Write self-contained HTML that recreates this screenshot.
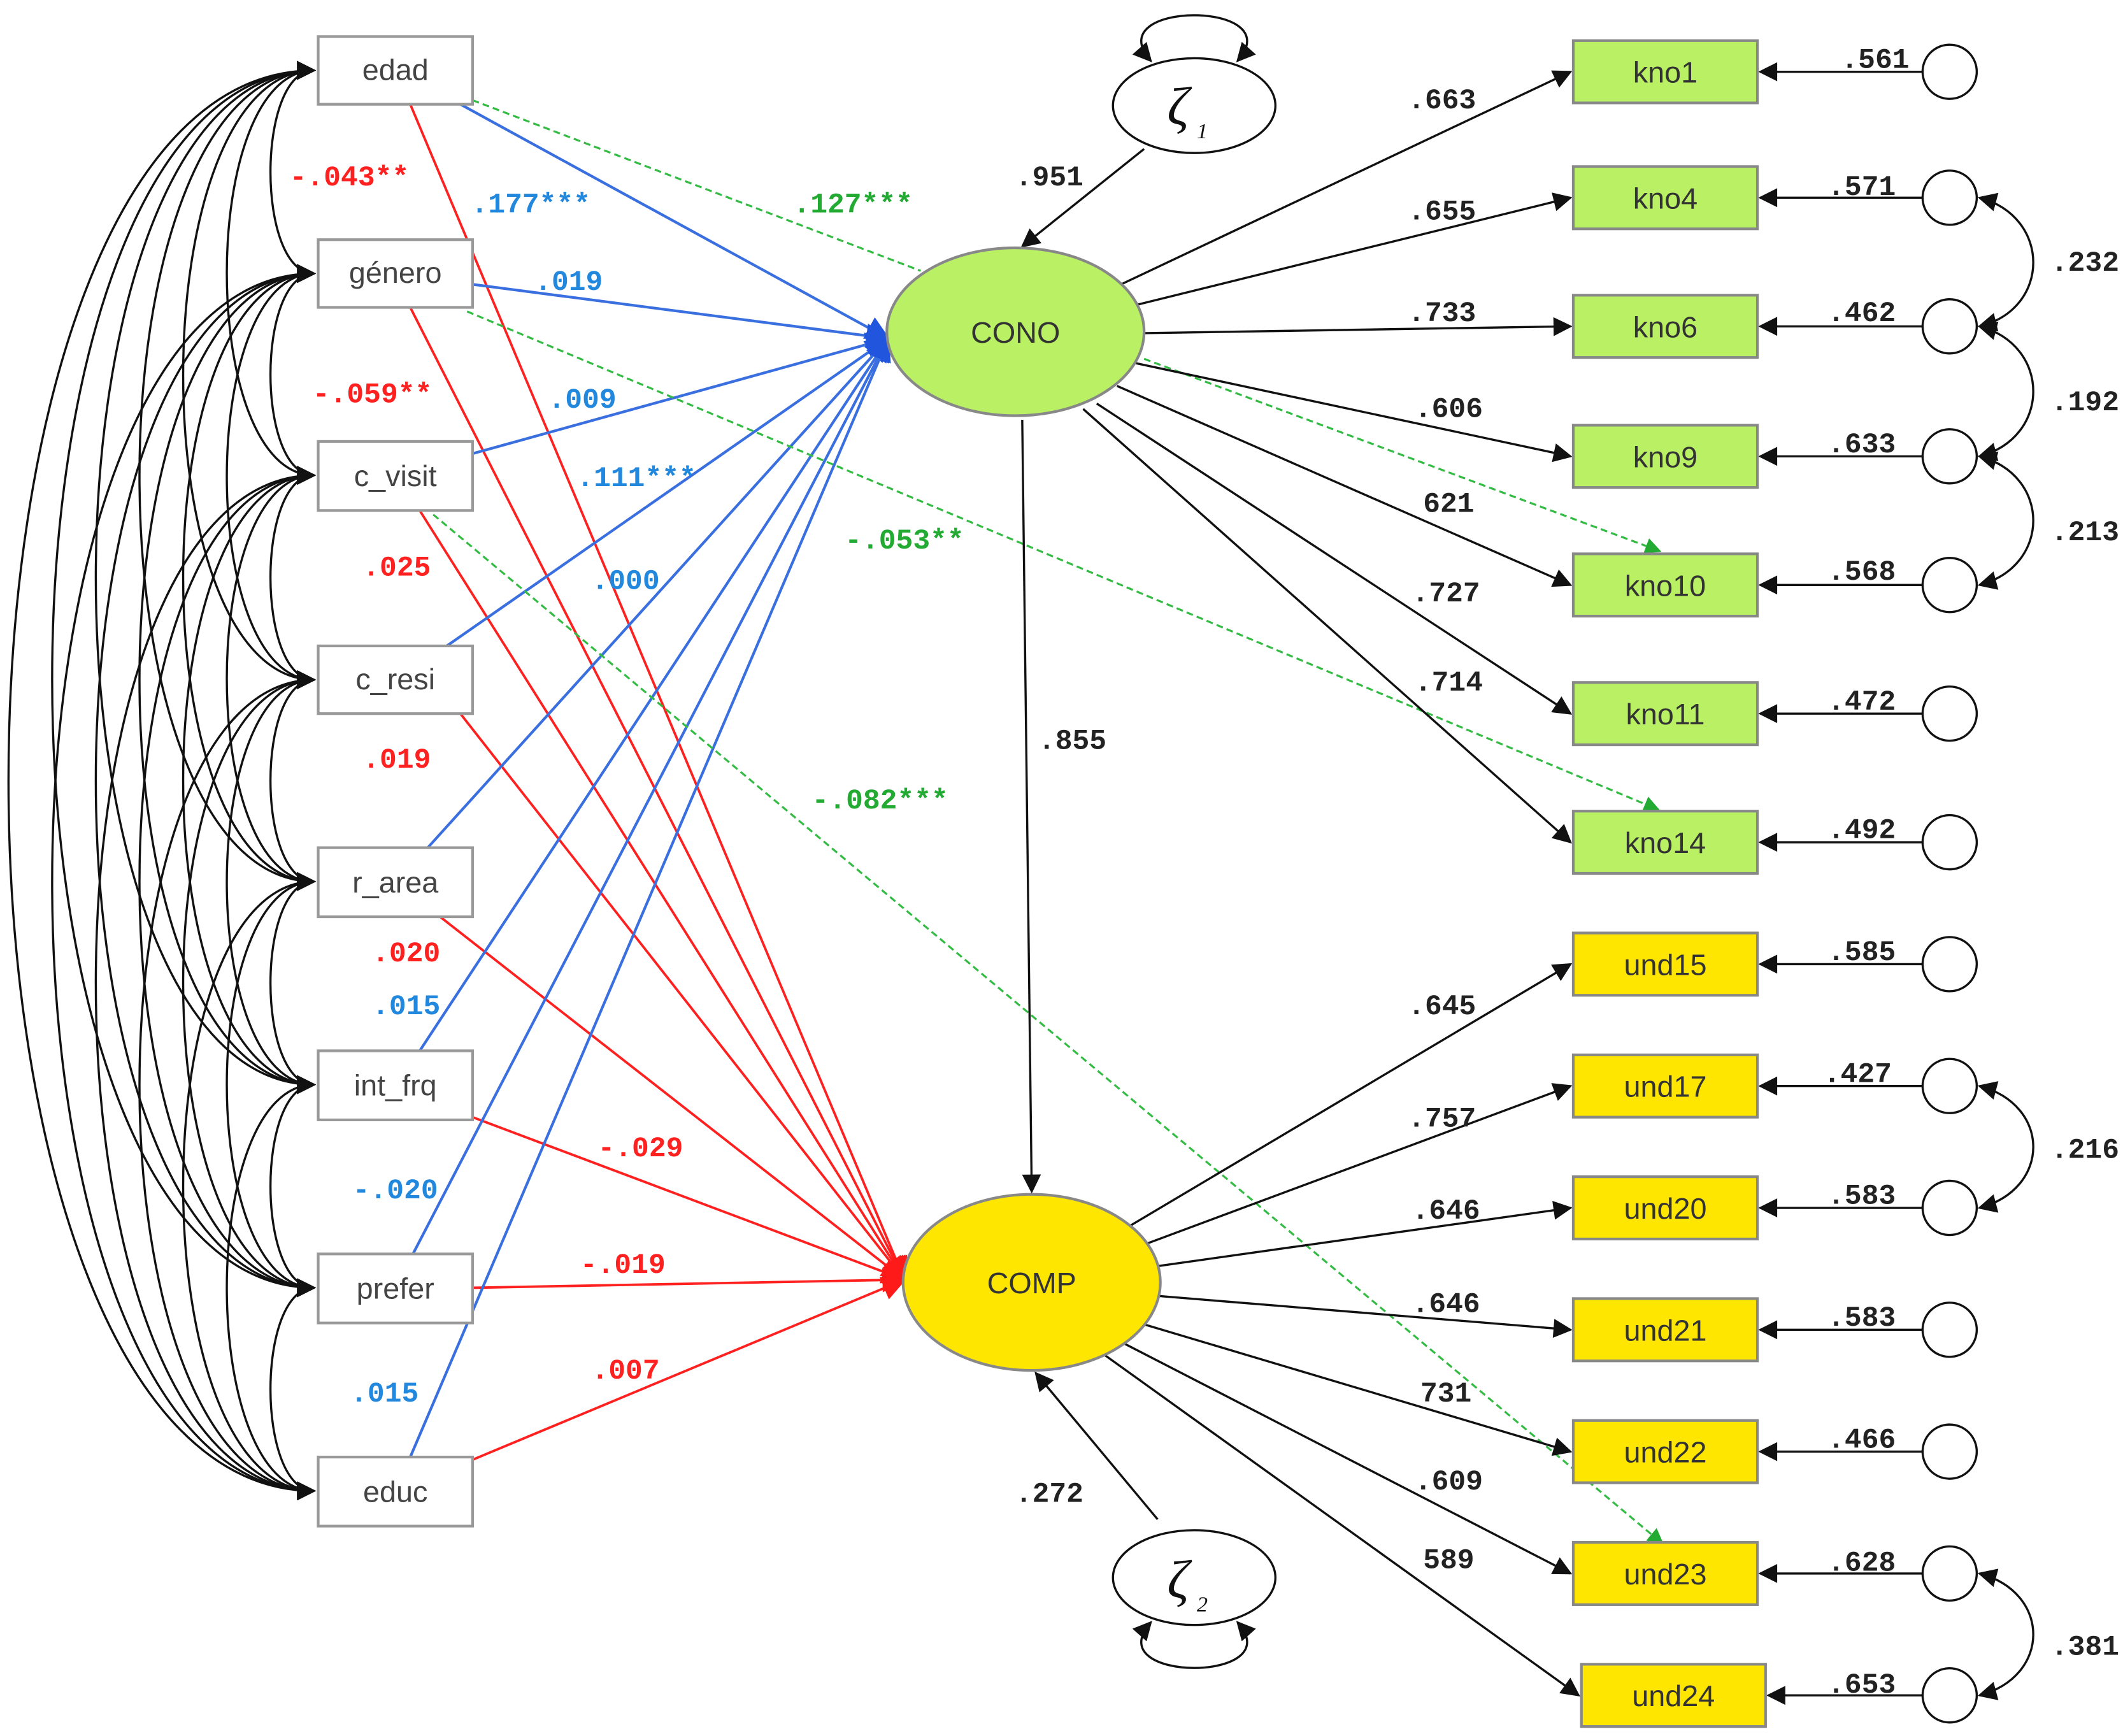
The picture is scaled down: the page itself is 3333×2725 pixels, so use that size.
<!DOCTYPE html>
<html><head><meta charset="utf-8"><style>html,body{margin:0;padding:0;background:#fff}svg{display:block}</style></head>
<body>
<svg xmlns="http://www.w3.org/2000/svg" width="3333" height="2725" viewBox="0 0 1568 1282">
<defs>
<marker id="ak2" viewBox="0 0 10 10" refX="9" refY="5" markerWidth="16" markerHeight="14" orient="auto-start-reverse" markerUnits="userSpaceOnUse"><path d="M0,0 L10,5 L0,10 z" fill="#111"/></marker>
<marker id="ab" viewBox="0 0 10 10" refX="9" refY="5" markerWidth="20" markerHeight="18" orient="auto" markerUnits="userSpaceOnUse"><path d="M0,0 L10,5 L0,10 z" fill="#2255dd"/></marker>
<marker id="ar" viewBox="0 0 10 10" refX="9" refY="5" markerWidth="20" markerHeight="18" orient="auto" markerUnits="userSpaceOnUse"><path d="M0,0 L10,5 L0,10 z" fill="#ff1a1a"/></marker>
<marker id="ag" viewBox="0 0 10 10" refX="9" refY="5" markerWidth="14" markerHeight="12" orient="auto" markerUnits="userSpaceOnUse"><path d="M0,0 L10,5 L0,10 z" fill="#22aa33"/></marker>
</defs>

<g fill="none" stroke="#111" stroke-width="1.6" marker-start="url(#ak2)" marker-end="url(#ak2)">
<path d="M232 52 C189 52,189 202,232 202"/><path d="M232 52 C146 52,146 351,232 351"/><path d="M232 52 C103 52,103 502,232 502"/><path d="M232 52 C60 52,60 651,232 651"/><path d="M232 52 C17 52,17 801,232 801"/><path d="M232 52 C-26 52,-26 951,232 951"/><path d="M232 52 C-69 52,-69 1101,232 1101"/>
<path d="M232 202 C189 202,189 351,232 351"/><path d="M232 202 C146 202,146 502,232 502"/><path d="M232 202 C103 202,103 651,232 651"/><path d="M232 202 C60 202,60 801,232 801"/><path d="M232 202 C17 202,17 951,232 951"/><path d="M232 202 C-26 202,-26 1101,232 1101"/>
<path d="M232 351 C189 351,189 502,232 502"/><path d="M232 351 C146 351,146 651,232 651"/><path d="M232 351 C103 351,103 801,232 801"/><path d="M232 351 C60 351,60 951,232 951"/><path d="M232 351 C17 351,17 1101,232 1101"/>
<path d="M232 502 C189 502,189 651,232 651"/><path d="M232 502 C146 502,146 801,232 801"/><path d="M232 502 C103 502,103 951,232 951"/><path d="M232 502 C60 502,60 1101,232 1101"/>
<path d="M232 651 C189 651,189 801,232 801"/><path d="M232 651 C146 651,146 951,232 951"/><path d="M232 651 C103 651,103 1101,232 1101"/>
<path d="M232 801 C189 801,189 951,232 951"/><path d="M232 801 C146 801,146 1101,232 1101"/>
<path d="M232 951 C189 951,189 1101,232 1101"/>
</g>

<g stroke="#ff2020" stroke-width="1.8" fill="none" marker-end="url(#ar)">
<line x1="303" y1="77" x2="668" y2="945"/><line x1="303" y1="227" x2="668" y2="945"/><line x1="310" y1="377" x2="668" y2="945"/><line x1="340" y1="527" x2="668" y2="945"/><line x1="325" y1="677" x2="668" y2="945"/><line x1="349" y1="825" x2="668" y2="945"/><line x1="349" y1="951" x2="668" y2="945"/><line x1="349" y1="1078" x2="668" y2="945"/>
</g>
<g stroke="#3a6fe0" stroke-width="2" fill="none" marker-end="url(#ab)">
<line x1="340" y1="77" x2="656" y2="250"/><line x1="349" y1="210" x2="656" y2="250"/><line x1="349" y1="335" x2="656" y2="250"/><line x1="330" y1="477" x2="656" y2="250"/><line x1="315" y1="627" x2="656" y2="250"/><line x1="310" y1="776" x2="656" y2="250"/><line x1="305" y1="926" x2="656" y2="250"/><line x1="303" y1="1076" x2="656" y2="250"/>
</g>
<g stroke="#33bb44" stroke-width="1.5" fill="none" stroke-dasharray="5,3">
<line x1="349" y1="74" x2="680" y2="200"/>
<line x1="345" y1="230" x2="1225" y2="598" marker-end="url(#ag)"/>
<line x1="845" y1="265" x2="1226" y2="407" marker-end="url(#ag)"/>
<line x1="320" y1="380" x2="1228" y2="1140" marker-end="url(#ag)"/>
</g>

<g fill="#fff" stroke="#999" stroke-width="2">
<rect x="235" y="27" width="114" height="50"/><rect x="235" y="177" width="114" height="50"/><rect x="235" y="326" width="114" height="51"/><rect x="235" y="477" width="114" height="50"/><rect x="235" y="626" width="114" height="51"/><rect x="235" y="776" width="114" height="51"/><rect x="235" y="926" width="114" height="51"/><rect x="235" y="1076" width="114" height="51"/>
</g>
<g font-family="Liberation Sans, sans-serif" font-size="22" fill="#444" text-anchor="middle">
<text x="292" y="59">edad</text><text x="292" y="209">género</text><text x="292" y="359">c_visit</text><text x="292" y="509">c_resi</text><text x="292" y="659">r_area</text><text x="292" y="809">int_frq</text><text x="292" y="959">prefer</text><text x="292" y="1109">educ</text>
</g>

<g stroke="#111" stroke-width="1.6" fill="none" marker-end="url(#ak2)">
<line x1="755" y1="310" x2="762" y2="880"/>
<line x1="845" y1="110" x2="755" y2="182"/>
<line x1="855" y1="1122" x2="765" y2="1014"/>
</g>
<g stroke="#111" stroke-width="1.6" fill="none" marker-start="url(#ak2)" marker-end="url(#ak2)">
<path d="M850 45 C810 0,954 0,914 45"/>
<path d="M914 1198 C954 1243,810 1243,850 1198"/>
</g>

<g stroke="#111" stroke-width="1.6" marker-end="url(#ak2)">
<line x1="828" y1="210" x2="1160" y2="53"/><line x1="840" y1="225" x2="1160" y2="146"/><line x1="845" y1="246" x2="1160" y2="241"/><line x1="838" y1="268" x2="1160" y2="337"/><line x1="825" y1="285" x2="1160" y2="432"/><line x1="810" y1="298" x2="1160" y2="527"/><line x1="800" y1="302" x2="1160" y2="622"/>
<line x1="835" y1="905" x2="1160" y2="712"/><line x1="848" y1="918" x2="1160" y2="802"/><line x1="855" y1="935" x2="1160" y2="892"/><line x1="855" y1="957" x2="1160" y2="982"/><line x1="845" y1="978" x2="1160" y2="1072"/><line x1="830" y1="992" x2="1160" y2="1162"/><line x1="815" y1="1000" x2="1166" y2="1252"/>
<line x1="1420" y1="53" x2="1300" y2="53"/><line x1="1420" y1="146" x2="1300" y2="146"/><line x1="1420" y1="241" x2="1300" y2="241"/><line x1="1420" y1="337" x2="1300" y2="337"/><line x1="1420" y1="432" x2="1300" y2="432"/><line x1="1420" y1="527" x2="1300" y2="527"/><line x1="1420" y1="622" x2="1300" y2="622"/>
<line x1="1420" y1="712" x2="1300" y2="712"/><line x1="1420" y1="802" x2="1300" y2="802"/><line x1="1420" y1="892" x2="1300" y2="892"/><line x1="1420" y1="982" x2="1300" y2="982"/><line x1="1420" y1="1072" x2="1300" y2="1072"/><line x1="1420" y1="1162" x2="1300" y2="1162"/><line x1="1420" y1="1252" x2="1306" y2="1252"/>
</g>
<g stroke="#111" stroke-width="1.6" fill="none" marker-start="url(#ak2)" marker-end="url(#ak2)">
<path d="M1462 146 C1515 160,1515 228,1462 241"/><path d="M1462 241 C1515 255,1515 323,1462 337"/><path d="M1462 337 C1515 351,1515 418,1462 432"/><path d="M1462 802 C1515 816,1515 878,1462 892"/><path d="M1462 1162 C1515 1176,1515 1238,1462 1252"/>
</g>

<ellipse cx="750" cy="245" rx="95" ry="62" fill="#b9f064" stroke="#888" stroke-width="2"/>
<ellipse cx="762" cy="947" rx="95" ry="65" fill="#ffe600" stroke="#888" stroke-width="2"/>
<ellipse cx="882" cy="78" rx="60" ry="35" fill="#fff" stroke="#111" stroke-width="1.6"/>
<ellipse cx="882" cy="1165" rx="60" ry="35" fill="#fff" stroke="#111" stroke-width="1.6"/>
<g font-family="Liberation Sans, sans-serif" font-size="22" fill="#333" text-anchor="middle">
<text x="750" y="253">CONO</text><text x="762" y="955">COMP</text>
</g>
<g font-family="Liberation Serif, serif" font-style="italic" font-size="40" fill="#111">
<text x="862" y="92">ζ</text><text x="884" y="102" font-size="16">1</text>
<text x="862" y="1180">ζ</text><text x="884" y="1190" font-size="16">2</text>
</g>

<g stroke="#888" stroke-width="2">
<rect x="1162" y="30" width="136" height="46" fill="#b9f064"/><rect x="1162" y="123" width="136" height="46" fill="#b9f064"/><rect x="1162" y="218" width="136" height="46" fill="#b9f064"/><rect x="1162" y="314" width="136" height="46" fill="#b9f064"/><rect x="1162" y="409" width="136" height="46" fill="#b9f064"/><rect x="1162" y="504" width="136" height="46" fill="#b9f064"/><rect x="1162" y="599" width="136" height="46" fill="#b9f064"/>
<rect x="1162" y="689" width="136" height="46" fill="#ffe600"/><rect x="1162" y="779" width="136" height="46" fill="#ffe600"/><rect x="1162" y="869" width="136" height="46" fill="#ffe600"/><rect x="1162" y="959" width="136" height="46" fill="#ffe600"/><rect x="1162" y="1049" width="136" height="46" fill="#ffe600"/><rect x="1162" y="1139" width="136" height="46" fill="#ffe600"/><rect x="1168" y="1229" width="136" height="46" fill="#ffe600"/>
</g>
<g font-family="Liberation Sans, sans-serif" font-size="22" fill="#333" text-anchor="middle">
<text x="1230" y="61">kno1</text><text x="1230" y="154">kno4</text><text x="1230" y="249">kno6</text><text x="1230" y="345">kno9</text><text x="1230" y="440">kno10</text><text x="1230" y="535">kno11</text><text x="1230" y="630">kno14</text>
<text x="1230" y="720">und15</text><text x="1230" y="810">und17</text><text x="1230" y="900">und20</text><text x="1230" y="990">und21</text><text x="1230" y="1080">und22</text><text x="1230" y="1170">und23</text><text x="1236" y="1260">und24</text>
</g>
<g fill="#fff" stroke="#111" stroke-width="1.6">
<circle cx="1440" cy="53" r="20"/><circle cx="1440" cy="146" r="20"/><circle cx="1440" cy="241" r="20"/><circle cx="1440" cy="337" r="20"/><circle cx="1440" cy="432" r="20"/><circle cx="1440" cy="527" r="20"/><circle cx="1440" cy="622" r="20"/>
<circle cx="1440" cy="712" r="20"/><circle cx="1440" cy="802" r="20"/><circle cx="1440" cy="892" r="20"/><circle cx="1440" cy="982" r="20"/><circle cx="1440" cy="1072" r="20"/><circle cx="1440" cy="1162" r="20"/><circle cx="1440" cy="1252" r="20"/>
</g>

<g font-family="Liberation Mono, monospace" font-weight="bold" font-size="21" text-anchor="middle">
<g fill="#ff2020">
<text x="258" y="137">-.043**</text><text x="275" y="297">-.059**</text><text x="293" y="425">.025</text><text x="293" y="567">.019</text><text x="300" y="710">.020</text><text x="473" y="854">-.029</text><text x="460" y="940">-.019</text><text x="462" y="1018">.007</text>
</g>
<g fill="#2288dd">
<text x="392" y="157">.177***</text><text x="420" y="214">.019</text><text x="430" y="301">.009</text><text x="470" y="359">.111***</text><text x="462" y="435">.000</text><text x="300" y="749">.015</text><text x="292" y="885">-.020</text><text x="284" y="1035">.015</text>
</g>
<g fill="#22aa33">
<text x="630" y="157">.127***</text><text x="668" y="405">-.053**</text><text x="650" y="597">-.082***</text>
</g>
<g fill="#222">
<text x="1065" y="80">.663</text><text x="1065" y="162">.655</text><text x="1065" y="237">.733</text><text x="1070" y="308">.606</text><text x="1070" y="378">621</text><text x="1068" y="444">.727</text><text x="1070" y="510">.714</text>
<text x="1065" y="749">.645</text><text x="1065" y="832">.757</text><text x="1068" y="900">.646</text><text x="1068" y="969">.646</text><text x="1068" y="1035">731</text><text x="1070" y="1100">.609</text><text x="1070" y="1158">589</text>
<text x="775" y="137">.951</text><text x="792" y="553">.855</text><text x="775" y="1109">.272</text>
<text x="1385" y="50">.561</text><text x="1375" y="144">.571</text><text x="1375" y="237">.462</text><text x="1375" y="334">.633</text><text x="1375" y="428">.568</text><text x="1375" y="524">.472</text><text x="1375" y="619">.492</text>
<text x="1375" y="709">.585</text><text x="1372" y="799">.427</text><text x="1375" y="889">.583</text><text x="1375" y="979">.583</text><text x="1375" y="1069">.466</text><text x="1375" y="1160">.628</text><text x="1375" y="1250">.653</text>
<text x="1540" y="200">.232</text><text x="1540" y="303">.192</text><text x="1540" y="399">.213</text><text x="1540" y="855">.216</text><text x="1540" y="1222">.381</text>
</g>
</g>
</svg>
</body></html>
